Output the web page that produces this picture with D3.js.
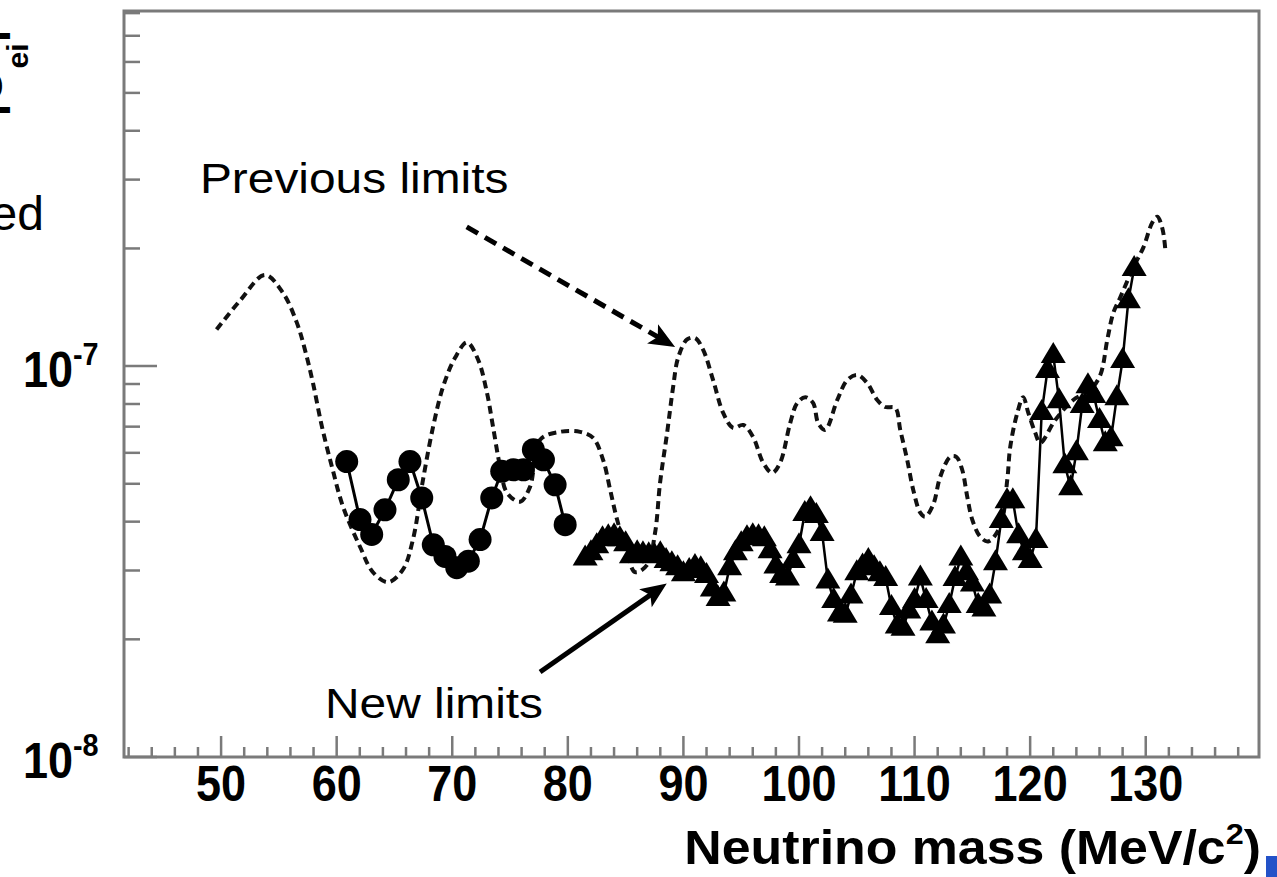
<!DOCTYPE html>
<html>
<head>
<meta charset="utf-8">
<script src="https://cdn.jsdelivr.net/npm/d3@7"></script>
<style>
  body { margin: 0; background: #fff; }
  svg { display: block; }
</style>
</head>
<body>
<div id="container"></div>
<script>
var W = 1277, H = 877;
var frame = {left: 124, right: 1259, top: 11, bottom: 757};

/* axis ranges and ticks */
var xDomain = [41.6, 139.8],
    yDomain = [1e-8, 8.1e-7];
var xTickLabels = [50, 60, 70, 80, 90, 100, 110, 120, 130];
var xMinorTicks = [42, 44, 46, 48, 52, 54, 56, 58, 62, 64, 66, 68, 72, 74, 76, 78, 82, 84, 86, 88,
                   92, 94, 96, 98, 102, 104, 106, 108, 112, 114, 116, 118, 122, 124, 126, 128,
                   132, 134, 136, 138];
var yMajorTicks = [1e-8, 1e-7];
var yTickExp = ['-8', '-7'];
var yMinorTicks = [2e-8, 3e-8, 4e-8, 5e-8, 6e-8, 7e-8, 8e-8, 9e-8,
                   2e-7, 3e-7, 4e-7, 5e-7, 6e-7, 7e-7, 8e-7];

/* previous limits (dashed curve) */
var prevMass = [49.61, 51.63, 53.79, 55.35, 56.56, 57.26, 57.95, 58.73, 59.59, 60.55,
                62.02, 63.14, 64.44, 65.74, 66.60, 67.47, 68.34, 69.20, 70.24, 71.28,
                72.23, 73.01, 73.53, 74.14, 74.74, 75.87, 76.73, 77.60, 79.33, 81.06,
                82.19, 83.05, 83.66, 84.26, 85.13, 85.82, 86.86, 87.55, 87.98, 88.59,
                89.11, 89.54, 90.32, 91.01, 91.71, 92.57, 93.44, 94.30, 95.17, 96.03,
                96.90, 97.68, 98.37, 99.24, 99.84, 100.54, 101.23, 101.66, 102.27, 103.31,
                104.17, 105.04, 105.90, 106.77, 107.46, 108.33, 108.76, 109.36, 109.88, 110.49,
                110.92, 111.61, 112.22, 113.09, 113.61, 114.12, 114.56, 114.99, 115.68, 116.37,
                117.41, 118.02, 118.28, 118.89, 119.40, 119.84, 120.44, 120.88, 122.17, 123.73,
                125.20, 126.07, 126.68, 127.20, 127.80, 128.93, 129.79, 130.57, 131.00, 131.44,
                131.70];
var prevLimit = [1.24e-7, 1.47e-7, 1.71e-7, 1.54e-7, 1.29e-7, 1.10e-7, 9.05e-8, 6.99e-8, 5.53e-8, 4.37e-8,
                 3.45e-8, 2.97e-8, 2.80e-8, 3.02e-8, 3.60e-8, 5.12e-8, 6.99e-8, 8.84e-8, 1.05e-7, 1.15e-7,
                 1.04e-7, 8.53e-8, 6.99e-8, 5.53e-8, 4.74e-8, 4.50e-8, 4.91e-8, 6.48e-8, 6.79e-8, 6.79e-8,
                 6.55e-8, 5.76e-8, 4.83e-8, 4.05e-8, 3.33e-8, 2.97e-8, 3.10e-8, 3.75e-8, 5.03e-8, 6.75e-8,
                 8.84e-8, 1.05e-7, 1.17e-7, 1.18e-7, 1.10e-7, 9.21e-8, 7.59e-8, 6.95e-8, 7.07e-8, 6.59e-8,
                 5.66e-8, 5.33e-8, 5.66e-8, 7.15e-8, 8.04e-8, 8.33e-8, 8.04e-8, 7.15e-8, 6.87e-8, 8.19e-8,
                 9.21e-8, 9.49e-8, 9.05e-8, 8.19e-8, 7.86e-8, 7.82e-8, 6.87e-8, 5.76e-8, 4.83e-8, 4.22e-8,
                 4.12e-8, 4.42e-8, 5.21e-8, 5.86e-8, 5.86e-8, 5.43e-8, 4.63e-8, 4.05e-8, 3.66e-8, 3.56e-8,
                 3.89e-8, 5.12e-8, 6.22e-8, 7.59e-8, 8.33e-8, 7.59e-8, 6.75e-8, 6.36e-8, 7.28e-8, 8.19e-8,
                 8.69e-8, 9.49e-8, 1.17e-7, 1.37e-7, 1.50e-7, 1.79e-7, 2.01e-7, 2.33e-7, 2.41e-7, 2.25e-7,
                 1.98e-7];

/* new limits, circles */
var circMass = [60.87, 62.02, 63.03, 64.18, 65.33, 66.34, 67.36, 68.36, 69.37, 70.39,
                71.39, 72.41, 73.42, 74.28, 75.29, 76.16, 77.02, 77.89, 78.90, 79.77];
var circLimit = [5.70e-8, 4.05e-8, 3.71e-8, 4.29e-8, 5.12e-8, 5.70e-8, 4.60e-8, 3.49e-8, 3.26e-8, 3.05e-8,
                 3.17e-8, 3.60e-8, 4.60e-8, 5.38e-8, 5.43e-8, 5.43e-8, 6.11e-8, 5.76e-8, 4.97e-8, 3.93e-8];

/* new limits, triangles */
var triMass = [81.5, 82, 82.5, 83, 83.5, 84, 84.5, 85, 85.5, 86, 86.5, 87, 87.5, 88, 88.5, 89, 89.5, 90,
               90.5, 91, 91.5, 92, 92.5, 93, 93.5, 94, 94.5, 95, 95.5, 96, 96.5, 97, 97.5, 98, 98.5, 99,
               99.5, 100, 100.5, 101, 101.5, 102, 102.5, 103, 103.5, 104, 104.5, 105, 105.5, 106, 106.5, 107,
               107.5, 108, 108.5, 109, 109.5, 110, 110.5, 111, 111.5, 112, 112.5, 113, 113.5, 114, 114.5, 115,
               115.5, 116, 116.5, 117, 117.5, 118, 118.5, 119, 119.5, 120, 120.5, 121, 121.5, 122, 122.5, 123,
               123.5, 124, 124.5, 125, 125.5, 126, 126.5, 127, 127.5, 128, 128.5, 129];
var triLimit = [3.24e-8, 3.34e-8, 3.48e-8, 3.63e-8, 3.67e-8, 3.69e-8, 3.63e-8, 3.52e-8, 3.28e-8, 3.34e-8,
                3.32e-8, 3.30e-8, 3.28e-8, 3.32e-8, 3.19e-8, 3.13e-8, 3.06e-8, 2.95e-8, 3.01e-8, 3.08e-8,
                3.04e-8, 2.92e-8, 2.70e-8, 2.55e-8, 2.62e-8, 3.06e-8, 3.34e-8, 3.52e-8, 3.65e-8, 3.69e-8,
                3.67e-8, 3.63e-8, 3.38e-8, 3.09e-8, 2.92e-8, 2.88e-8, 3.19e-8, 3.48e-8, 4.21e-8, 4.33e-8,
                4.16e-8, 3.74e-8, 2.83e-8, 2.52e-8, 2.33e-8, 2.31e-8, 2.59e-8, 2.97e-8, 3.09e-8, 3.19e-8,
                3.06e-8, 2.95e-8, 2.87e-8, 2.42e-8, 2.17e-8, 2.14e-8, 2.37e-8, 2.52e-8, 2.88e-8, 2.52e-8,
                2.21e-8, 2.05e-8, 2.17e-8, 2.45e-8, 2.87e-8, 3.24e-8, 2.97e-8, 2.78e-8, 2.45e-8, 2.40e-8,
                2.59e-8, 3.15e-8, 4.04e-8, 4.54e-8, 4.54e-8, 3.69e-8, 3.34e-8, 3.19e-8, 3.59e-8, 7.63e-8,
                9.77e-8, 1.067e-7, 8.18e-8, 5.58e-8, 4.90e-8, 6.02e-8, 7.95e-8, 8.94e-8, 8.43e-8, 7.28e-8,
                6.35e-8, 6.54e-8, 8.33e-8, 1.036e-7, 1.475e-7, 1.782e-7];

/* annotations: [mass, value] */
var prevArrow = [[71.25, 2.27e-7], [89.28, 1.12e-7]];
var newArrow = [[77.6, 1.65e-8], [88.56, 2.78e-8]];
var prevText = {m: 48.17, v: 2.77e-7, label: 'Previous limits'};
var newText = {m: 58.99, v: 1.26e-8, label: 'New limits'};

var FONT = "'Liberation Sans', Arial, Helvetica, sans-serif";

var svg = d3.select('#container').append('svg')
    .attr('width', W).attr('height', H)
    .style('background', '#fff');

var x = d3.scaleLinear().domain(xDomain).range([frame.left, frame.right]);
var y = d3.scaleLog().domain(yDomain).range([frame.bottom, frame.top]);

// stretch a text horizontally about its anchor
function stretch(sel, sx, ax) {
    sel.attr('transform', 'translate(' + ax + ',0) scale(' + sx + ',1) translate(' + (-ax) + ',0)');
}

/* previous limits */
var prevLine = d3.line()
    .x(d => x(d[0])).y(d => y(d[1]))
    .curve(d3.curveCatmullRom.alpha(0.5));
svg.append('path')
    .datum(d3.zip(prevMass, prevLimit))
    .attr('d', prevLine)
    .attr('fill', 'none').attr('stroke', '#111')
    .attr('stroke-width', 4).attr('stroke-dasharray', '8,5');

/* new limits */
var dataLine = d3.line().x(d => x(d[0])).y(d => y(d[1]));
var circData = d3.zip(circMass, circLimit),
    triData = d3.zip(triMass, triLimit);

svg.append('path').datum(circData).attr('d', dataLine)
    .attr('fill', 'none').attr('stroke', '#000').attr('stroke-width', 3);
svg.append('path').datum(triData).attr('d', dataLine)
    .attr('fill', 'none').attr('stroke', '#000').attr('stroke-width', 2.5);

svg.append('g').selectAll('circle').data(circData)
    .enter().append('circle')
    .attr('cx', d => x(d[0])).attr('cy', d => y(d[1]))
    .attr('r', 11.5).attr('fill', '#000');

svg.append('g').selectAll('path').data(triData)
    .enter().append('path')
    .attr('d', 'M0,-13L12.5,8L-12.5,8Z')
    .attr('transform', d => 'translate(' + x(d[0]) + ',' + y(d[1]) + ')')
    .attr('fill', '#000');

/* frame and ticks */
var axisColor = '#7a7a7a';
svg.append('rect')
    .attr('x', frame.left).attr('y', frame.top)
    .attr('width', frame.right - frame.left).attr('height', frame.bottom - frame.top)
    .attr('fill', 'none').attr('stroke', axisColor).attr('stroke-width', 3);

var ticks = svg.append('g').attr('stroke', axisColor).attr('stroke-width', 2.5);
ticks.selectAll('.xmaj').data(xTickLabels).enter().append('line')
    .attr('x1', d => x(d)).attr('x2', d => x(d))
    .attr('y1', frame.bottom).attr('y2', frame.bottom - 21);
ticks.selectAll('.xmin').data(xMinorTicks).enter().append('line')
    .attr('x1', d => x(d)).attr('x2', d => x(d))
    .attr('y1', frame.bottom).attr('y2', frame.bottom - 10);
ticks.selectAll('.ymaj').data(yMajorTicks).enter().append('line')
    .attr('x1', frame.left).attr('x2', frame.left + 33)
    .attr('y1', d => y(d)).attr('y2', d => y(d));
ticks.selectAll('.ymin').data(yMinorTicks).enter().append('line')
    .attr('x1', frame.left).attr('x2', frame.left + 16)
    .attr('y1', d => y(d)).attr('y2', d => y(d));

/* tick labels (narrow bold face, as in the original) */
svg.append('g').selectAll('text').data(xTickLabels)
    .enter().append('text')
    .attr('x', d => x(d)).attr('y', frame.bottom + 44)
    .attr('text-anchor', 'middle')
    .attr('font-family', FONT).attr('font-weight', 'bold').attr('font-size', 50)
    .text(d => d)
    .each(function(d) { stretch(d3.select(this), 0.9, x(d)); });

var ylab = svg.append('g').selectAll('text').data(yMajorTicks)
    .enter().append('text')
    .attr('x', 23).attr('y', d => y(d) + 21)
    .attr('font-family', FONT).attr('font-weight', 'bold').attr('font-size', 50);
ylab.append('tspan').text('10');
ylab.append('tspan').attr('dy', -22).attr('font-size', 32).text((d, i) => yTickExp[i]);
ylab.each(function() { stretch(d3.select(this), 0.9, 23); });

/* axis titles */
var xt = svg.append('text')
    .attr('x', 1261).attr('y', 864)
    .attr('text-anchor', 'end')
    .attr('font-family', FONT).attr('font-weight', 'bold').attr('font-size', 48);
xt.append('tspan').text('Neutrino mass (MeV/c');
xt.append('tspan').attr('dy', -20).attr('font-size', 30).text('2');
xt.append('tspan').attr('dy', 20).text(')');
stretch(xt, 1.08, 1261);

// y title, rotated and mostly cut off by the left edge of the picture
var yt = svg.append('g').attr('transform', 'rotate(-90)')
    .attr('font-family', FONT).attr('font-weight', 'bold').attr('text-anchor', 'middle');
yt.append('text').attr('x', -110).attr('y', 0).attr('font-size', 46).text('|');
yt.append('text').attr('x', -86).attr('y', 2).attr('font-size', 46).text('U');
yt.append('text').attr('x', -56).attr('y', 28).attr('font-size', 30).text('ei');
yt.append('text').attr('x', -36).attr('y', 0).attr('font-size', 46).text('|');
yt.append('text').attr('x', -18).attr('y', -30).attr('font-size', 30).text('2');

svg.append('text')
    .attr('x', 44).attr('y', 230).attr('text-anchor', 'end')
    .attr('font-family', FONT).attr('font-size', 48)
    .text('Excluded');

/* annotations */
[prevText, newText].forEach(function(t) {
    var el = svg.append('text')
        .attr('x', x(t.m)).attr('y', y(t.v))
        .attr('font-family', FONT).attr('font-size', 42).attr('fill', '#000')
        .text(t.label);
    stretch(el, 1.14, x(t.m));
});

function arrow(pts, dashed) {
    var x0 = x(pts[0][0]), y0 = y(pts[0][1]),
        x1 = x(pts[1][0]), y1 = y(pts[1][1]);
    var ang = Math.atan2(y1 - y0, x1 - x0),
        len = Math.hypot(x1 - x0, y1 - y0) - 16;
    svg.append('line')
        .attr('x1', x0).attr('y1', y0)
        .attr('x2', x0 + len * Math.cos(ang)).attr('y2', y0 + len * Math.sin(ang))
        .attr('stroke', '#000').attr('stroke-width', 5)
        .attr('stroke-dasharray', dashed ? '13,8' : null);
    svg.append('path')
        .attr('d', 'M0,0L-26,-11L-20,0L-26,11Z')
        .attr('transform', 'translate(' + x1 + ',' + y1 + ') rotate(' + (ang * 180 / Math.PI) + ')')
        .attr('fill', '#000');
}
arrow(prevArrow, true);
arrow(newArrow, false);

/* corner mark */
svg.append('rect').attr('x', 1266).attr('y', 856).attr('width', 11).attr('height', 21)
    .attr('fill', '#2352c8');
</script>
</body>
</html>
